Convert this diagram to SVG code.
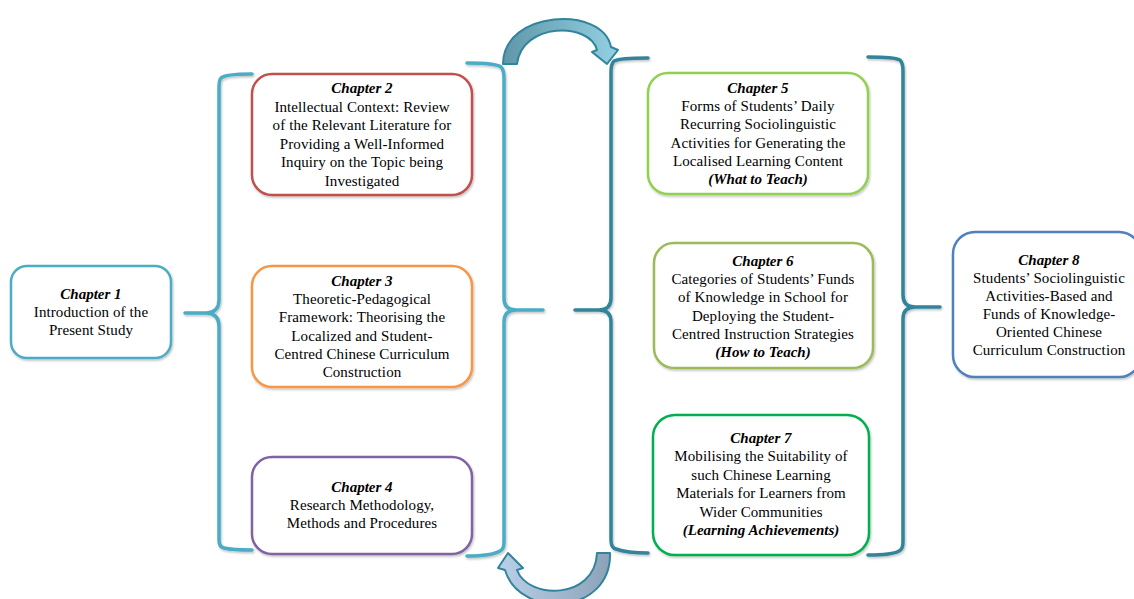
<svg xmlns="http://www.w3.org/2000/svg" width="1134" height="599" viewBox="0 0 1134 599">
<defs>
<filter id="sh" x="-10%" y="-10%" width="120%" height="120%">
<feDropShadow dx="1" dy="1.5" stdDeviation="1" flood-color="#000" flood-opacity="0.25"/>
</filter>
<linearGradient id="gTop" x1="0" y1="0" x2="1" y2="0">
<stop offset="0" stop-color="#5f97a8"/>
<stop offset="1" stop-color="#92d0e2"/>
</linearGradient>
<linearGradient id="gBot" x1="1" y1="0" x2="0" y2="0">
<stop offset="0" stop-color="#8ca2b8"/>
<stop offset="1" stop-color="#bad0e8"/>
</linearGradient>
<style>
.box{fill:#fff;stroke-width:2.5;filter:url(#sh)}
.t{font-family:"Liberation Serif","Times New Roman",serif;font-size:15px;letter-spacing:0.1px;fill:#000;text-anchor:middle}
.h{font-weight:bold;font-style:italic;letter-spacing:0}
.brL{fill:none;stroke:#4bacc6;stroke-width:3.5;stroke-linecap:round;stroke-linejoin:round;filter:url(#sh)}
.brR{fill:none;stroke:#31849b;stroke-width:3.5;stroke-linecap:round;stroke-linejoin:round;filter:url(#sh)}
.arr{stroke:#31849b;stroke-width:2;stroke-linejoin:round}
</style>
</defs>
<rect width="1134" height="599" fill="#fff"/>

<g id="connectors">
<path class="brL" d="M 252,74 C 236,74 224,75 221,78 Q 219,80 219,88 L 219,300 Q 219,312 207,313 L 185,313 L 207,313 Q 219,314 219,326 L 219,540 Q 219,547 224,548 C 232,550 244,550 252,550"/>
<path class="brL" d="M 467,63 C 485,63 497,64 501,67 Q 504,70 504,78 L 504,298 Q 504,310 516,310 L 543,310 L 516,310 Q 504,310 504,322 L 504,542 Q 504,549 500,551 C 495,554 482,556 467,556"/>
<path class="brR" d="M 648,58 C 630,58 618,59 614,61 Q 611,64 611,72 L 611,298 Q 611,310 599,310 L 575,310 L 599,310 Q 611,310 611,322 L 611,540 Q 611,548 616,549 C 624,552 636,553 648,553"/>
<path class="brR" d="M 868,57 C 886,57 896,58 900,60 Q 903,63 903,71 L 903,295 Q 903,307 915,307 L 940,307 L 915,307 Q 903,307 903,319 L 903,542 Q 903,549 899,551 C 894,554 882,555 868,555"/>
<path class="arr" fill="url(#gTop)" d="M 503,64 C 503,10 603,5 611,47 L 618,50 L 607,64 L 592,52 L 597,50 C 590,22 522,22 517,64 Z"/>
<path class="arr" fill="url(#gBot)" d="M 610,553 C 612,615 520,620 505,570 L 498,568 L 508,553 L 523,568 L 517,570 C 528,600 595,600 597,553 Z"/>
</g>

<g id="ch1">
<rect class="box" x="11" y="266" width="160" height="92" rx="16" stroke="#4bacc6"/>
<text class="t" x="91" y="299"><tspan class="h">Chapter 1</tspan><tspan x="91" dy="18">Introduction of the</tspan><tspan x="91" dy="18">Present Study</tspan></text>
</g>

<g id="ch2">
<rect class="box" x="252" y="74" width="220" height="121" rx="20" stroke="#c0504d"/>
<text class="t" x="362" y="93"><tspan class="h">Chapter 2</tspan><tspan x="362" dy="18.5">Intellectual Context: Review</tspan><tspan x="362" dy="18.5">of the Relevant Literature for</tspan><tspan x="362" dy="18.5">Providing a Well-Informed</tspan><tspan x="362" dy="18.5">Inquiry on the Topic being</tspan><tspan x="362" dy="18.5">Investigated</tspan></text>
</g>

<g id="ch3">
<rect class="box" x="252" y="266" width="220" height="121" rx="20" stroke="#f79646"/>
<text class="t" x="362" y="286"><tspan class="h">Chapter 3</tspan><tspan x="362" dy="18.2">Theoretic-Pedagogical</tspan><tspan x="362" dy="18.2">Framework: Theorising the</tspan><tspan x="362" dy="18.2">Localized and Student-</tspan><tspan x="362" dy="18.2">Centred Chinese Curriculum</tspan><tspan x="362" dy="18.2">Construction</tspan></text>
</g>

<g id="ch4">
<rect class="box" x="252" y="457" width="220" height="97" rx="20" stroke="#8064a2"/>
<text class="t" x="362" y="492"><tspan class="h">Chapter 4</tspan><tspan x="362" dy="18">Research Methodology,</tspan><tspan x="362" dy="18">Methods and Procedures</tspan></text>
</g>

<g id="ch5">
<rect class="box" x="648" y="73" width="220" height="121" rx="20" stroke="#92d050"/>
<text class="t" x="758" y="93"><tspan class="h">Chapter 5</tspan><tspan x="758" dy="18.2">Forms of Students’ Daily</tspan><tspan x="758" dy="18.2">Recurring Sociolinguistic</tspan><tspan x="758" dy="18.2">Activities for Generating the</tspan><tspan x="758" dy="18.2">Localised Learning Content</tspan><tspan x="758" dy="18.2" class="h">(What to Teach)</tspan></text>
</g>

<g id="ch6">
<rect class="box" x="654" y="243" width="219" height="125" rx="20" stroke="#9bbb59"/>
<text class="t" x="763" y="266"><tspan class="h">Chapter 6</tspan><tspan x="763" dy="18.2">Categories of Students’ Funds</tspan><tspan x="763" dy="18.2">of Knowledge in School for</tspan><tspan x="763" dy="18.2">Deploying the Student-</tspan><tspan x="763" dy="18.2">Centred Instruction Strategies</tspan><tspan x="763" dy="18.2" class="h">(How to Teach)</tspan></text>
</g>

<g id="ch7">
<rect class="box" x="653" y="415" width="216" height="140" rx="22" stroke="#00b050"/>
<text class="t" x="761" y="443"><tspan class="h">Chapter 7</tspan><tspan x="761" dy="18.4">Mobilising the Suitability of</tspan><tspan x="761" dy="18.4">such Chinese Learning</tspan><tspan x="761" dy="18.4">Materials for Learners from</tspan><tspan x="761" dy="18.4">Wider Communities</tspan><tspan x="761" dy="18.4" class="h">(Learning Achievements)</tspan></text>
</g>

<g id="ch8">
<rect class="box" x="953" y="232" width="188" height="145" rx="22" stroke="#4f81bd"/>
<text class="t" x="1049" y="265"><tspan class="h">Chapter 8</tspan><tspan x="1049" dy="18">Students’ Sociolinguistic</tspan><tspan x="1049" dy="18">Activities-Based and</tspan><tspan x="1049" dy="18">Funds of Knowledge-</tspan><tspan x="1049" dy="18">Oriented Chinese</tspan><tspan x="1049" dy="18">Curriculum Construction</tspan></text>
</g>
</svg>
